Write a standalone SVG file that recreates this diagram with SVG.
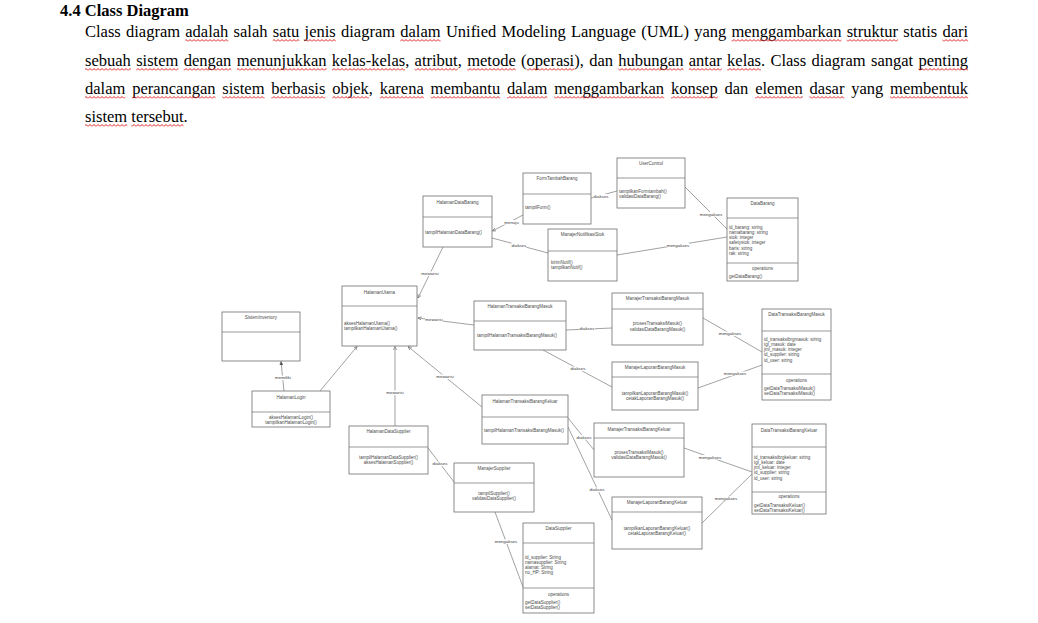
<svg xmlns="http://www.w3.org/2000/svg" width="1038" height="623" viewBox="0 0 1038 623">
<defs>
<style>
.t{font-family:"Liberation Serif","Times New Roman",serif;font-size:16.5px;fill:#000}
.h{font-weight:bold}
.n{font-family:"Liberation Sans",Arial,sans-serif;font-size:4.5px;fill:#4a4a4a}
.c{text-anchor:middle}
.lb{font-family:"Liberation Sans",Arial,sans-serif;font-size:4.4px;fill:#3a3a3a;text-anchor:middle}
.bg{fill:#fff}
.box{fill:#fff;stroke:#6e6e6e;stroke-width:0.8}
.dv{stroke:#6e6e6e;stroke-width:0.7}
.cn line{stroke:#7a7a7a;stroke-width:0.7;fill:none}
.sq rect{fill:url(#wave)}
</style>
<pattern id="wave" patternUnits="userSpaceOnUse" width="4" height="3">
<path d="M0,2.5 L2,0.5 L4,2.5" fill="none" stroke="#e02020" stroke-width="1"/>
</pattern>
<marker id="oa" viewBox="0 0 6 6" refX="5.5" refY="3" markerWidth="4" markerHeight="4" orient="auto" markerUnits="userSpaceOnUse">
<path d="M0,0.5 L5.5,3 L0,5.5" fill="none" stroke="#6e6e6e" stroke-width="1"/>
</marker>
<marker id="fa" viewBox="0 0 6 6" refX="5.5" refY="3" markerWidth="4" markerHeight="4" orient="auto" markerUnits="userSpaceOnUse">
<path d="M0,0.5 L5.5,3 L0,5.5 Z" fill="#555" stroke="#555" stroke-width="0.6"/>
</marker>
</defs>
<rect width="1038" height="623" fill="#fff"/>

<g id="header">
<text class="t h" x="60" y="16">4.4 Class Diagram</text>
<text class="t" y="37"><tspan x="85">Class</tspan><tspan x="126">diagram</tspan><tspan x="185.31">adalah</tspan><tspan x="233.62">salah</tspan><tspan x="272.77">satu</tspan><tspan x="304.59">jenis</tspan><tspan x="341">diagram</tspan><tspan x="400.31">dalam</tspan><tspan x="445.88">Unified</tspan><tspan x="501.53">Modeling</tspan><tspan x="570.94">Language</tspan><tspan x="641.24">(UML)</tspan><tspan x="694.13">yang</tspan><tspan x="731.45">menggambarkan</tspan><tspan x="846.66">struktur</tspan><tspan x="903.23">statis</tspan><tspan x="942.39">dari</tspan></text>
<text class="t" y="66"><tspan x="85">sebuah</tspan><tspan x="136.16">sistem</tspan><tspan x="183.67">dengan</tspan><tspan x="236.66">menunjukkan</tspan><tspan x="331.83">kelas-kelas,</tspan><tspan x="414.6">atribut,</tspan><tspan x="467.15">metode</tspan><tspan x="521.07">(operasi),</tspan><tspan x="589.18">dan</tspan><tspan x="618.35">hubungan</tspan><tspan x="688.77">antar</tspan><tspan x="727.09">kelas.</tspan><tspan x="770.46">Class</tspan><tspan x="811.56">diagram</tspan><tspan x="870.97">sangat</tspan><tspan x="918.47">penting</tspan></text>
<text class="t" y="94"><tspan x="85">dalam</tspan><tspan x="132.14">perancangan</tspan><tspan x="222.32">sistem</tspan><tspan x="271.3">berbasis</tspan><tspan x="332.18">objek,</tspan><tspan x="379.78">karena</tspan><tspan x="430.56">membantu</tspan><tspan x="507.03">dalam</tspan><tspan x="554.17">menggambarkan</tspan><tspan x="670.95">konsep</tspan><tspan x="724.5">dan</tspan><tspan x="755.14">elemen</tspan><tspan x="809.6">dasar</tspan><tspan x="851.23">yang</tspan><tspan x="890.12">membentuk</tspan></text>
<text class="t" x="85" y="122">sistem tersebut.</text>
<g class="sq" transform="translate(0,39)">
<rect x="185.3" y="0" width="43" height="3"/><rect x="272.8" y="0" width="26.6" height="3"/><rect x="304.6" y="0" width="31.2" height="3"/><rect x="400.3" y="0" width="40.3" height="3"/><rect x="731.5" y="0" width="110" height="3"/><rect x="846.7" y="0" width="51.3" height="3"/><rect x="942.4" y="0" width="25.7" height="3"/>
</g>
<g class="sq" transform="translate(0,68)">
<rect x="85" y="0" width="45.8" height="3"/><rect x="136.2" y="0" width="42.2" height="3"/><rect x="183.7" y="0" width="47.6" height="3"/><rect x="236.7" y="0" width="89.8" height="3"/><rect x="331.8" y="0" width="73.3" height="3"/><rect x="414.6" y="0" width="43.1" height="3"/><rect x="467.2" y="0" width="48.6" height="3"/><rect x="526.6" y="0" width="47.7" height="3"/><rect x="618.4" y="0" width="65.1" height="3"/><rect x="688.8" y="0" width="33" height="3"/><rect x="727.1" y="0" width="33.9" height="3"/><rect x="918.5" y="0" width="49.5" height="3"/>
</g>
<g class="sq" transform="translate(0,96)">
<rect x="85" y="0" width="40.3" height="3"/><rect x="132.1" y="0" width="83.4" height="3"/><rect x="222.3" y="0" width="42.2" height="3"/><rect x="271.3" y="0" width="54.1" height="3"/><rect x="332.2" y="0" width="36.7" height="3"/><rect x="379.8" y="0" width="44" height="3"/><rect x="430.6" y="0" width="69.7" height="3"/><rect x="507" y="0" width="40.3" height="3"/><rect x="554.2" y="0" width="110" height="3"/><rect x="671" y="0" width="46.7" height="3"/><rect x="755.1" y="0" width="47.7" height="3"/><rect x="809.6" y="0" width="34.8" height="3"/><rect x="890.1" y="0" width="77.9" height="3"/>
</g>
<g class="sq" transform="translate(0,124)">
<rect x="85" y="0" width="42.2" height="3"/><rect x="131.3" y="0" width="52.2" height="3"/>
</g>
</g>

<g id="connectors" class="cn">
<line x1="523" y1="215" x2="492.5" y2="231" marker-end="url(#oa)"/>
<line x1="591" y1="198" x2="617" y2="191"/>
<line x1="492" y1="238" x2="548" y2="253"/>
<line x1="443" y1="247" x2="418" y2="298" marker-end="url(#oa)"/>
<line x1="685" y1="187" x2="727" y2="229"/>
<line x1="617" y1="255" x2="727" y2="237"/>
<line x1="474" y1="325" x2="418" y2="318" marker-end="url(#oa)"/>
<line x1="284" y1="391" x2="281" y2="361.5" marker-end="url(#fa)"/>
<line x1="320" y1="391" x2="357" y2="346.5" marker-end="url(#oa)"/>
<line x1="395" y1="426" x2="395" y2="346.5" marker-end="url(#oa)"/>
<line x1="482" y1="407" x2="408" y2="346.5" marker-end="url(#oa)"/>
<line x1="566" y1="330" x2="612" y2="328"/>
<line x1="543" y1="350" x2="612" y2="387"/>
<line x1="703" y1="318" x2="762" y2="352"/>
<line x1="698" y1="388" x2="762" y2="365"/>
<line x1="428" y1="448" x2="454" y2="482"/>
<line x1="568" y1="418" x2="594" y2="450"/>
<line x1="568" y1="427" x2="612" y2="520"/>
<line x1="684" y1="448" x2="752" y2="472"/>
<line x1="702" y1="523" x2="752" y2="474"/>
<line x1="495" y1="512" x2="523" y2="587"/>
<rect class="bg" x="503" y="220" width="17" height="4.6"/>
<rect class="bg" x="593.3" y="194" width="15.5" height="4.6"/>
<rect class="bg" x="511.3" y="243" width="15.5" height="4.6"/>
<rect class="bg" x="421.2" y="271.5" width="17.6" height="4.6"/>
<rect class="bg" x="699.7" y="212" width="22.6" height="4.6"/>
<rect class="bg" x="666.7" y="243" width="22.6" height="4.6"/>
<rect class="bg" x="425.2" y="317.5" width="17.6" height="4.6"/>
<rect class="bg" x="275" y="375.5" width="16" height="4.6"/>
<rect class="bg" x="386.2" y="390.5" width="17.6" height="4.6"/>
<rect class="bg" x="436.2" y="374.5" width="17.6" height="4.6"/>
<rect class="bg" x="579.3" y="326.5" width="15.5" height="4.6"/>
<rect class="bg" x="570.3" y="366.5" width="15.5" height="4.6"/>
<rect class="bg" x="718.7" y="331.5" width="22.6" height="4.6"/>
<rect class="bg" x="723.7" y="371.5" width="22.6" height="4.6"/>
<rect class="bg" x="432.3" y="461.5" width="15.5" height="4.6"/>
<rect class="bg" x="576.3" y="435" width="15.5" height="4.6"/>
<rect class="bg" x="589.3" y="487.5" width="15.5" height="4.6"/>
<rect class="bg" x="698.7" y="455" width="22.6" height="4.6"/>
<rect class="bg" x="714.7" y="496.5" width="22.6" height="4.6"/>
<rect class="bg" x="494.7" y="539.5" width="22.6" height="4.6"/>
<text class="lb" x="511.5" y="223.5">menuju</text>
<text class="lb" x="601" y="197.5">diakses</text>
<text class="lb" x="519" y="246.5">diakses</text>
<text class="lb" x="430" y="275">mewarisi</text>
<text class="lb" x="711" y="215.5">mengakses</text>
<text class="lb" x="678" y="246.5">mengakses</text>
<text class="lb" x="434" y="321">mewarisi</text>
<text class="lb" x="283" y="379">memiliki</text>
<text class="lb" x="395" y="394">mewarisi</text>
<text class="lb" x="445" y="378">mewarisi</text>
<text class="lb" x="587" y="330">diakses</text>
<text class="lb" x="578" y="370">diakses</text>
<text class="lb" x="730" y="335">mengakses</text>
<text class="lb" x="735" y="375">mengakses</text>
<text class="lb" x="440" y="465">diakses</text>
<text class="lb" x="584" y="438.5">diakses</text>
<text class="lb" x="597" y="491">diakses</text>
<text class="lb" x="710" y="458.5">mengakses</text>
<text class="lb" x="726" y="500">mengakses</text>
<text class="lb" x="506" y="543">mengakses</text>
</g>

<g id="HalamanDataBarang">
<rect class="box" x="423" y="196" width="69" height="51"/>
<line class="dv" x1="423" y1="217" x2="492" y2="217"/>
<text class="n c" x="457.5" y="203.5">HalamanDataBarang</text>
<text class="n" x="425" y="233.5">tampilHalamanDataBarang()</text>
</g>
<g id="FormTambahBarang">
<rect class="box" x="523" y="173" width="68" height="51"/>
<line class="dv" x1="523" y1="194" x2="591" y2="194"/>
<text class="n c" x="557" y="180">FormTambahBarang</text>
<text class="n" x="525" y="209">tampilForm()</text>
</g>
<g id="ManajerNotifikasiStok">
<rect class="box" x="548" y="229" width="69" height="52"/>
<line class="dv" x1="548" y1="251" x2="617" y2="251"/>
<text class="n c" x="582.5" y="236">ManajerNotifikasiStok</text>
<text class="n" x="551" y="263.5">kirimNotif()</text>
<text class="n" x="551" y="269">tampilkanNotif()</text>
</g>
<g id="UserControl">
<rect class="box" x="617" y="158" width="68" height="50"/>
<line class="dv" x1="617" y1="178" x2="685" y2="178"/>
<text class="n c" x="651" y="165">UserControl</text>
<text class="n" x="619" y="192.5">tampilkanFormtambah()</text>
<text class="n" x="619" y="197.5">validasiDataBarang()</text>
</g>
<g id="DataBarang">
<rect class="box" x="727" y="198" width="71" height="83"/>
<line class="dv" x1="727" y1="218" x2="798" y2="218"/>
<line class="dv" x1="727" y1="263" x2="798" y2="263"/>
<text class="n c" x="762.5" y="205">DataBarang</text>
<text class="n" x="729" y="228.5">id_barang: string</text>
<text class="n" x="729" y="233.8">namabarang: string</text>
<text class="n" x="729" y="239">stok: integer</text>
<text class="n" x="729" y="244.3">safetystok: integer</text>
<text class="n" x="729" y="249.5">baris: string</text>
<text class="n" x="729" y="254.8">rak: string</text>
<text class="n c" x="762.5" y="269.6">operations</text>
<text class="n" x="729" y="277.5">getDataBarang()</text>
</g>
<g id="HalamanUtama">
<rect class="box" x="342" y="286" width="75" height="60"/>
<line class="dv" x1="342" y1="306" x2="417" y2="306"/>
<text class="n c" x="379.5" y="293.5">HalamanUtama</text>
<text class="n" x="344" y="324.5">aksesHalamanUtama()</text>
<text class="n" x="344" y="329.8">tampilkanHalamanUtama()</text>
</g>
<g id="SistemInventory">
<rect class="box" x="222" y="312" width="78" height="49"/>
<line class="dv" x1="222" y1="332" x2="300" y2="332"/>
<text class="n c" x="261" y="318.5">SistemInventory</text>
</g>
<g id="HalamanLogin">
<rect class="box" x="252" y="391" width="78" height="36"/>
<line class="dv" x1="252" y1="412" x2="330" y2="412"/>
<text class="n c" x="291" y="398.5">HalamanLogin</text>
<text class="n c" x="291" y="418.5">aksesHalamanLogin()</text>
<text class="n c" x="291" y="423.8">tampilkanHalamanLogin()</text>
</g>
<g id="HalamanTransaksiBarangMasuk">
<rect class="box" x="474" y="301" width="92" height="49"/>
<line class="dv" x1="474" y1="321" x2="566" y2="321"/>
<text class="n c" x="520" y="307.5">HalamanTransaksiBarangMasuk</text>
<text class="n" x="477" y="336.5">tampilHalamanTransaksiBarangMasuk()</text>
</g>
<g id="ManajerTransaksiBarangMasuk">
<rect class="box" x="612" y="293" width="91" height="52"/>
<line class="dv" x1="612" y1="309" x2="703" y2="309"/>
<text class="n c" x="657.5" y="299.5">ManajerTransaksiBarangMasuk</text>
<text class="n c" x="657.5" y="325">prosesTransaksiMasuk()</text>
<text class="n c" x="657.5" y="330.5">validasiDataBarangMasuk()</text>
</g>
<g id="ManajerLaporanBarangMasuk">
<rect class="box" x="612" y="362" width="86" height="48"/>
<line class="dv" x1="612" y1="377" x2="698" y2="377"/>
<text class="n c" x="655" y="369">ManajerLaporanBarangMasuk</text>
<text class="n c" x="655" y="394.5">tampilkanLaporanBarangMasuk()</text>
<text class="n c" x="655" y="400">cetakLaporanBarangMasuk()</text>
</g>
<g id="DataTransaksiBarangMasuk">
<rect class="box" x="762" y="309" width="69" height="91"/>
<line class="dv" x1="762" y1="331" x2="831" y2="331"/>
<line class="dv" x1="762" y1="374" x2="831" y2="374"/>
<text class="n c" x="796.5" y="315.5">DataTransaksiBarangMasuk</text>
<text class="n" x="764" y="340.5">id_transaksibrgmasuk: string</text>
<text class="n" x="764" y="345.8">tgl_masuk: date</text>
<text class="n" x="764" y="351">jml_masuk: integer</text>
<text class="n" x="764" y="356.3">id_supplier: string</text>
<text class="n" x="764" y="361.5">id_user: string</text>
<text class="n c" x="796.5" y="381.5">operations</text>
<text class="n" x="764" y="389.5">getDataTransaksiMasuk()</text>
<text class="n" x="764" y="394.8">setDataTransaksiMasuk()</text>
</g>
<g id="HalamanTransaksiBarangKeluar">
<rect class="box" x="482" y="395" width="86" height="49"/>
<line class="dv" x1="482" y1="417" x2="568" y2="417"/>
<text class="n c" x="525" y="402.5">HalamanTransaksiBarangKeluar</text>
<text class="n" x="484" y="431.5">tampilHalamanTransaksiBarangMasuk()</text>
</g>
<g id="HalamanDataSupplier">
<rect class="box" x="349" y="426" width="79" height="48"/>
<line class="dv" x1="349" y1="447" x2="428" y2="447"/>
<text class="n c" x="388.5" y="432.5">HalamanDataSupplier</text>
<text class="n c" x="388.5" y="458.5">tampilHalamanDataSupplier()</text>
<text class="n c" x="388.5" y="463.8">aksesHalamanSupplier()</text>
</g>
<g id="ManajerSupplier">
<rect class="box" x="454" y="463" width="80" height="49"/>
<line class="dv" x1="454" y1="483" x2="534" y2="483"/>
<text class="n c" x="494" y="469.5">ManajerSupplier</text>
<text class="n c" x="494" y="494.5">tampilSupplier()</text>
<text class="n c" x="494" y="499.8">validasiDataSupplier()</text>
</g>
<g id="ManajerTransaksiBarangKeluar">
<rect class="box" x="594" y="423" width="90" height="54"/>
<line class="dv" x1="594" y1="438" x2="684" y2="438"/>
<text class="n c" x="639" y="430.5">ManajerTransaksiBarangKeluar</text>
<text class="n c" x="639" y="453.5">prosesTransaksiMasuk()</text>
<text class="n c" x="639" y="459">validasiDataBarangMasuk()</text>
</g>
<g id="ManajerLaporanBarangKeluar">
<rect class="box" x="612" y="497" width="90" height="52"/>
<line class="dv" x1="612" y1="512" x2="702" y2="512"/>
<text class="n c" x="657" y="503.5">ManajerLaporanBarangKeluar</text>
<text class="n c" x="657" y="529.5">tampilkanLaporanBarangKeluar()</text>
<text class="n c" x="657" y="534.8">cetakLaporanBarangKeluar()</text>
</g>
<g id="DataTransaksiBarangKeluar">
<rect class="box" x="752" y="424" width="74" height="90"/>
<line class="dv" x1="752" y1="447" x2="826" y2="447"/>
<line class="dv" x1="752" y1="492" x2="826" y2="492"/>
<text class="n c" x="789" y="431.5">DataTransaksiBarangKeluar</text>
<text class="n" x="754" y="458.5">id_transaksibrgkeluar: string</text>
<text class="n" x="754" y="463.8">tgl_keluar: date</text>
<text class="n" x="754" y="469">jml_keluar: integer</text>
<text class="n" x="754" y="474.3">id_supplier: string</text>
<text class="n" x="754" y="479.5">id_user: string</text>
<text class="n c" x="789" y="497.5">operations</text>
<text class="n" x="754" y="506.5">getDataTransaksiKeluar()</text>
<text class="n" x="754" y="511.8">setDataTransaksiKeluar()</text>
</g>
<g id="DataSupplier">
<rect class="box" x="523" y="523" width="71" height="90"/>
<line class="dv" x1="523" y1="543" x2="594" y2="543"/>
<line class="dv" x1="523" y1="588" x2="594" y2="588"/>
<text class="n c" x="558.5" y="529.5">DataSupplier</text>
<text class="n" x="525" y="558.5">id_supplier: String</text>
<text class="n" x="525" y="563.8">namasupplier: String</text>
<text class="n" x="525" y="569">alamat: String</text>
<text class="n" x="525" y="574.3">no_HP: String</text>
<text class="n c" x="558.5" y="595.5">operations</text>
<text class="n" x="525" y="603.5">getDataSupplier()</text>
<text class="n" x="525" y="608.8">setDataSupplier()</text>
</g>
</svg>
